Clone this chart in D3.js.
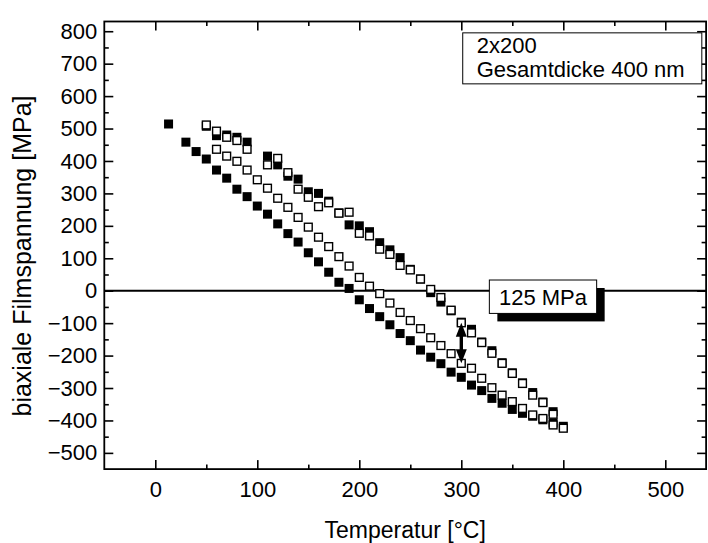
<!DOCTYPE html>
<html>
<head>
<meta charset="utf-8">
<script src="https://cdn.jsdelivr.net/npm/d3@7"></script>
<style>
  body { margin: 0; background: #fff; }
  svg text { font-family: "Liberation Sans", Arial, sans-serif; fill: #000; }
</style>
</head>
<body>
<svg id="chart" width="708" height="543"></svg>
<script>
// Heating run (both samples share the temperature steps)
const heatTemp = [50, 60, 70, 80, 90, 110, 120, 130, 140, 150, 160, 170, 180, 190, 200, 210, 220, 230, 240, 250,
                  260, 270, 280, 290, 300, 310, 320, 330, 340, 350, 360, 370, 380, 390, 400];
const heatFilled = [507, 478, 480, 473, 458, 415, 388, 353, 344, 305, 300, 276, 240, 203, 200, 182, 148, 126, 102, 66,
                    36, -6, -35, -62, -97, -119, -158, -185, -222, -253, -284, -314, -343, -373, -418];
const heatOpen = [511, 492, 473, 463, 436, 388, 408, 364, 313, 288, 259, 271, 239, 242, 177, 169, 128, 112, 78, 64,
                  36, 4, -21, -60, -99, -130, -160, -193, -224, -255, -286, -322, -345, -381, -424];

// Cooling run, open symbols
const coolTempOpen = [390, 380, 370, 360, 350, 340, 330, 320, 310, 300, 290, 280, 270, 260, 250, 240, 230, 220,
                      210, 200, 190, 180, 170, 160, 150, 140, 130, 120, 110, 100, 90, 80, 70, 60];
const coolOpen = [-414, -394, -383, -363, -342, -322, -299, -270, -239, -224, -194, -169, -145, -117, -92, -67, -38, -9,
                  14, 41, 76, 105, 136, 165, 196, 226, 257, 285, 316, 342, 372, 399, 415, 436];

// Cooling run, filled symbols
const coolTempFilled = [390, 380, 370, 360, 350, 340, 330, 320, 310, 300, 290, 280, 270, 260, 250, 240, 230, 220,
                        210, 200, 190, 180, 170, 160, 150, 140, 130, 120, 110, 100, 90, 80, 70, 60, 50, 40, 30, 13];
const coolFilled = [-408, -398, -387, -378, -366, -347, -332, -308, -291, -267, -251, -225, -205, -183, -154, -132, -105, -80,
                    -55, -28, 7, 26, 57, 89, 117, 150, 176, 206, 236, 261, 290, 313, 347, 372, 406, 429, 458, 514];

// Stress hysteresis marked at 300 °C
const gapTemp = 300;
const gapUpper = -99;
const gapLower = -224;

const xTicks = [0, 100, 200, 300, 400, 500];
const xMinor = [50, 150, 250, 350, 450];
const yTicks = [-500, -400, -300, -200, -100, 0, 100, 200, 300, 400, 500, 600, 700, 800];
const yMinor = [-450, -350, -250, -150, -50, 50, 150, 250, 350, 450, 550, 650, 750];

const infoLines = ["2x200", "Gesamtdicke 400 nm"];
const xTitle = "Temperatur [°C]";
const yTitle = "biaxiale Filmspannung [MPa]";

const svg = d3.select("#chart");
const x = d3.scaleLinear().domain([-50, 540]).range([104.3, 706.1]);
const y = d3.scaleLinear().domain([-550, 830]).range([469.1, 21.5]);
const [x0, x1] = x.range();
const [y0, y1] = y.range();

// zero-stress line
svg.append("line")
  .attr("x1", x0).attr("x2", x1)
  .attr("y1", y(0)).attr("y2", y(0))
  .attr("stroke", "#000").attr("stroke-width", 2);

// axes with inward ticks on all four sides
function styleAxis(g) {
  g.select(".domain").remove();
  g.selectAll(".tick line").attr("stroke", "#000").attr("stroke-width", 1.6);
  g.selectAll(".tick text").style("font-size", "22px");
}
const major = 9, minor = 4.5;
svg.append("g").attr("transform", `translate(0,${y0})`)
  .call(d3.axisBottom(x).tickValues(xTicks).tickSizeInner(-major).tickSizeOuter(0).tickPadding(12))
  .call(styleAxis);
svg.append("g").attr("transform", `translate(0,${y0})`)
  .call(d3.axisBottom(x).tickValues(xMinor).tickSizeInner(-minor).tickSizeOuter(0).tickFormat(""))
  .call(styleAxis);
svg.append("g").attr("transform", `translate(0,${y1})`)
  .call(d3.axisTop(x).tickValues(xTicks).tickSizeInner(-major).tickSizeOuter(0).tickFormat(""))
  .call(styleAxis);
svg.append("g").attr("transform", `translate(0,${y1})`)
  .call(d3.axisTop(x).tickValues(xMinor).tickSizeInner(-minor).tickSizeOuter(0).tickFormat(""))
  .call(styleAxis);
svg.append("g").attr("transform", `translate(${x0},0)`)
  .call(d3.axisLeft(y).tickValues(yTicks).tickSizeInner(-major).tickSizeOuter(0).tickPadding(7))
  .call(styleAxis);
svg.append("g").attr("transform", `translate(${x0},0)`)
  .call(d3.axisLeft(y).tickValues(yMinor).tickSizeInner(-minor).tickSizeOuter(0).tickFormat(""))
  .call(styleAxis);
svg.append("g").attr("transform", `translate(${x1},0)`)
  .call(d3.axisRight(y).tickValues(yTicks).tickSizeInner(-major).tickSizeOuter(0).tickFormat(""))
  .call(styleAxis);
svg.append("g").attr("transform", `translate(${x1},0)`)
  .call(d3.axisRight(y).tickValues(yMinor).tickSizeInner(-minor).tickSizeOuter(0).tickFormat(""))
  .call(styleAxis);

// frame
svg.append("rect")
  .attr("x", x0).attr("y", y1)
  .attr("width", x1 - x0).attr("height", y0 - y1)
  .attr("fill", "none").attr("stroke", "#000").attr("stroke-width", 1.8);

// axis titles
svg.append("text")
  .attr("x", (x0 + x1) / 2).attr("y", 538)
  .attr("text-anchor", "middle").style("font-size", "23px")
  .text(xTitle);
svg.append("text")
  .attr("transform", `translate(31,256) rotate(-90)`)
  .attr("text-anchor", "middle").style("font-size", "25px")
  .text(yTitle);

// data points
const side = 9;
function squares(temps, vals, filled) {
  svg.append("g").selectAll("rect")
    .data(temps.map((t, i) => [t, vals[i]]))
    .join("rect")
    .attr("x", d => x(d[0]) - side / 2 + (filled ? 0 : 0.6))
    .attr("y", d => y(d[1]) - side / 2 + (filled ? 0 : 0.6))
    .attr("width", filled ? side : side - 1.2)
    .attr("height", filled ? side : side - 1.2)
    .attr("fill", filled ? "#000" : "#fff")
    .attr("stroke", filled ? "none" : "#000")
    .attr("stroke-width", filled ? 0 : 1.4);
}
squares(heatTemp, heatFilled, true);
squares(coolTempFilled, coolFilled, true);
squares(heatTemp, heatOpen, false);
squares(coolTempOpen, coolOpen, false);

// double arrow between heating and cooling branch at 300 °C
const ax = x(gapTemp), ayTop = y(gapUpper), ayBot = y(gapLower);
const headL = 14, headW = 5.5;
svg.append("line")
  .attr("x1", ax).attr("x2", ax)
  .attr("y1", ayTop + headL - 2).attr("y2", ayBot - headL + 2)
  .attr("stroke", "#000").attr("stroke-width", 3.4);
svg.append("path")
  .attr("d", `M${ax},${ayTop} L${ax - headW},${ayTop + headL} L${ax + headW},${ayTop + headL} Z`)
  .attr("fill", "#000");
svg.append("path")
  .attr("d", `M${ax},${ayBot} L${ax - headW},${ayBot - headL} L${ax + headW},${ayBot - headL} Z`)
  .attr("fill", "#000");

// label box with drop shadow for the hysteresis width
const bx = x(327.5), bw = x(432.7) - x(327.5);
const by = y(33), bh = y(-70) - y(33);
svg.append("rect")
  .attr("x", bx + 8).attr("y", by + 8).attr("width", bw).attr("height", bh)
  .attr("fill", "#000");
svg.append("rect")
  .attr("x", bx).attr("y", by).attr("width", bw).attr("height", bh)
  .attr("fill", "#fff").attr("stroke", "#000").attr("stroke-width", 1);
svg.append("text")
  .attr("x", bx + bw / 2).attr("y", by + bh / 2 + 8)
  .attr("text-anchor", "middle").style("font-size", "22px")
  .text(`${gapUpper - gapLower} MPa`);

// sample information box
const ix = x(301.4), iw = x(535.8) - x(301.4);
const iy = y(795), ih = 51;
svg.append("rect")
  .attr("x", ix).attr("y", iy).attr("width", iw).attr("height", ih)
  .attr("fill", "#fff").attr("stroke", "#000").attr("stroke-width", 1);
svg.selectAll(".info")
  .data(infoLines)
  .join("text")
  .attr("class", "info")
  .attr("x", ix + 14)
  .attr("y", (d, i) => iy + 20 + i * 24)
  .style("font-size", "22px")
  .text(d => d);
</script>
</body>
</html>
